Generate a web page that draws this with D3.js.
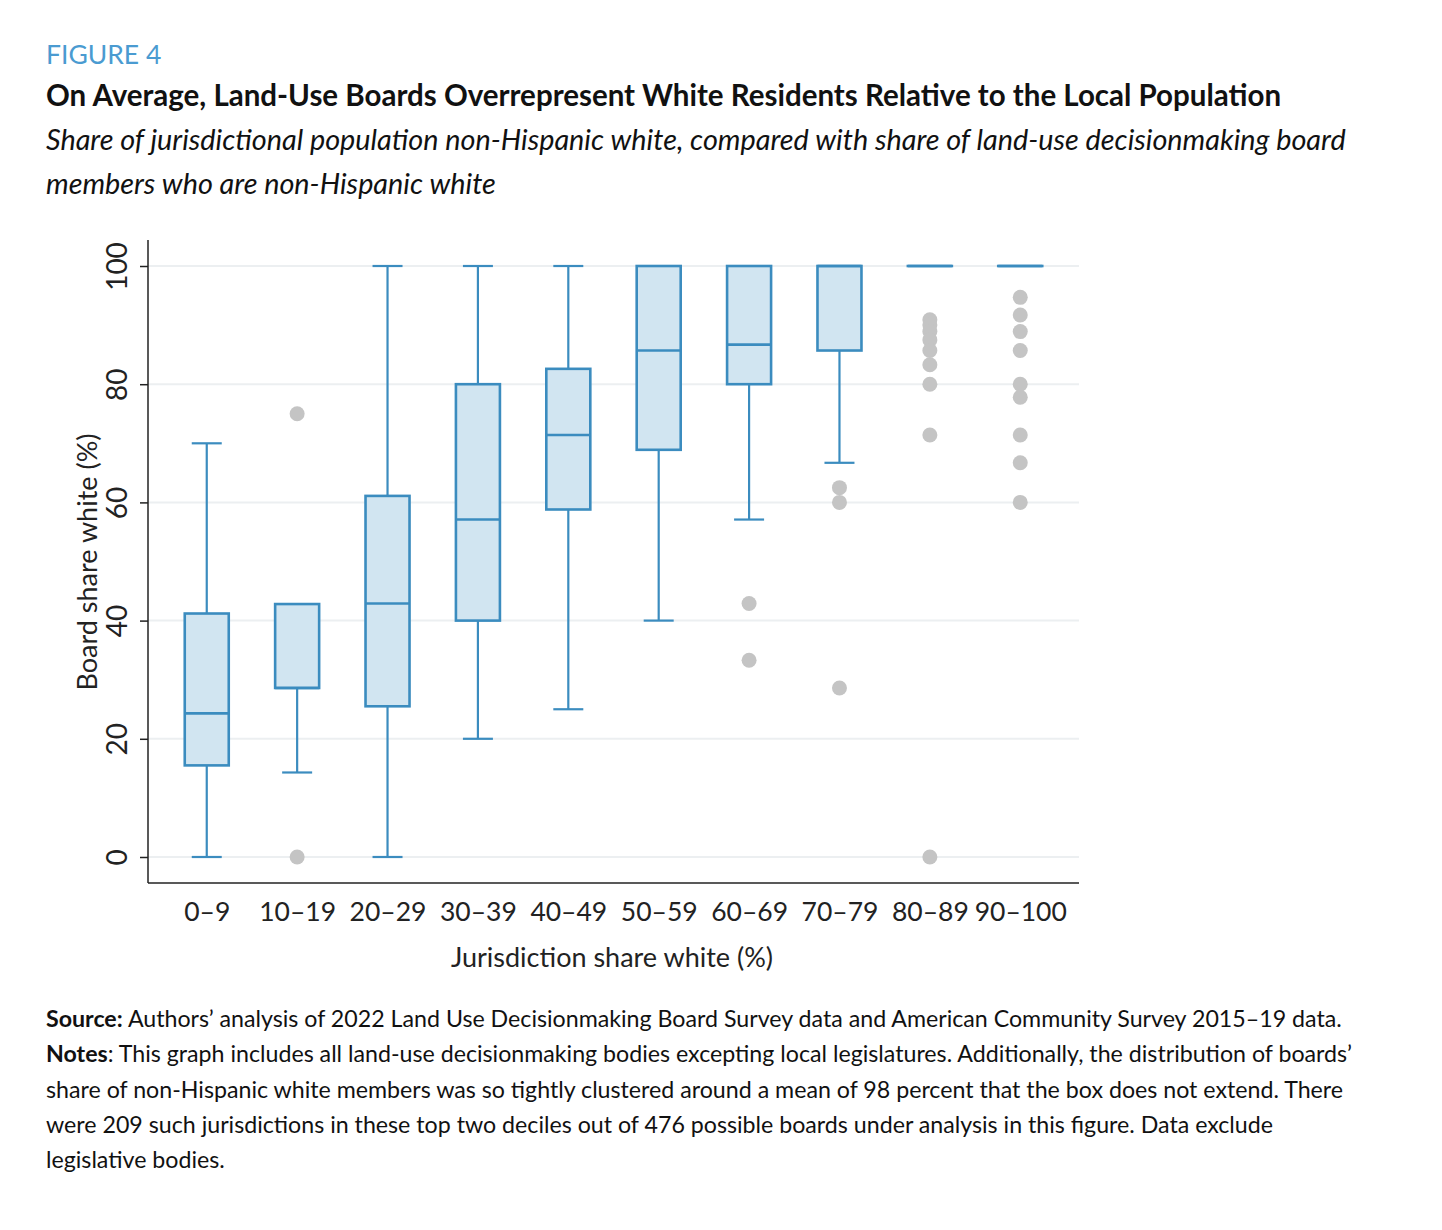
<!DOCTYPE html>
<html>
<head>
<meta charset="utf-8">
<script src="https://cdn.jsdelivr.net/npm/d3@7"></script>
<style>
  body { margin: 0; background: #fff; }
  text { font-family: Lato, "Open Sans", sans-serif; }
</style>
</head>
<body>
<script>
// categories and box stats
var categories = ["0–9", "10–19", "20–29", "30–39", "40–49", "50–59", "60–69", "70–79", "80–89", "90–100"];
var whiskerLow  = [0,    14.3, 0,    20,   25,   40,   57.1, 66.7, 100, 100];
var q1          = [15.5, 28.6, 25.5, 40,   58.8, 68.9, 80,   85.7, 100, 100];
var median      = [24.3, 28.6, 42.9, 57.1, 71.4, 85.7, 86.7, 100,  100, 100];
var q3          = [41.2, 42.8, 61.1, 80,   82.6, 100,  100,  100,  100, 100];
var whiskerHigh = [70,   42.8, 100,  100,  100,  100,  100,  100,  100, 100];
var outliers = [
  [],
  [75, 0],
  [],
  [],
  [],
  [],
  [42.9, 33.3],
  [62.5, 60, 28.6],
  [90.9, 90, 88.9, 87.5, 85.7, 83.3, 80, 71.4, 0],
  [94.7, 91.7, 88.9, 85.7, 80, 77.8, 71.4, 66.7, 60]
];
var yTicks = [0, 20, 40, 60, 80, 100];

var W = 1442, H = 1230;
var blue = "#3b8cbf", fillBlue = "#d1e5f1", grey = "#c4c4c4";

var svg = d3.select("body")
	.append("svg")
	.attr("width", W)
	.attr("height", H);

// header
svg.append("text").attr("x", 46).attr("y", 64)
	.style("font-size", "26.5px").style("fill", "#4a9bd1")
	.text("FIGURE 4");
svg.append("text").attr("x", 46).attr("y", 106)
	.style("font-size", "29.5px").style("font-weight", "bold").style("fill", "#111")
	.text("On Average, Land-Use Boards Overrepresent White Residents Relative to the Local Population");
var subtitle = ["Share of jurisdictional population non-Hispanic white, compared with share of land-use decisionmaking board",
	"members who are non-Hispanic white"];
subtitle.forEach(function(s, i) {
	svg.append("text").attr("x", 46).attr("y", 150 + i * 44)
		.style("font-size", "28.8px").style("font-style", "italic").style("fill", "#111")
		.text(s);
});

// scales
var x = d3.scalePoint().domain(categories).range([148, 1079]).padding(0.65);
var y = d3.scaleLinear().domain([-4.4, 104.4]).range([883, 240]);
var boxW = 44, capW = 30;

// grid
svg.append("g").selectAll("line").data(yTicks).enter().append("line")
	.attr("x1", 148).attr("x2", 1079)
	.attr("y1", function(d) { return y(d); }).attr("y2", function(d) { return y(d); })
	.style("stroke", "#eceff1").style("stroke-width", 2);

// axes
var yAxis = svg.append("g").attr("transform", "translate(148,0)")
	.call(d3.axisLeft(y).tickValues(yTicks).tickSize(8).tickPadding(10));
yAxis.select(".domain").remove();
yAxis.selectAll("line").style("stroke", "#222").style("stroke-width", 1.5);
yAxis.selectAll("text")
	.attr("x", 0).attr("y", 0).attr("dy", "0.35em")
	.attr("transform", "translate(-31,0) rotate(-90)")
	.style("text-anchor", "middle")
	.style("font-size", "28px").style("fill", "#222").style("font-family", "Lato, sans-serif");

svg.append("line").attr("x1", 148).attr("x2", 148).attr("y1", 240).attr("y2", 883)
	.style("stroke", "#222").style("stroke-width", 1.5);
svg.append("line").attr("x1", 148).attr("x2", 1079).attr("y1", 883).attr("y2", 883)
	.style("stroke", "#222").style("stroke-width", 1.5);

var xAxis = svg.append("g").attr("transform", "translate(0,883)")
	.call(d3.axisBottom(x).tickSize(0).tickPadding(19));
xAxis.select(".domain").remove();
xAxis.selectAll("text").style("font-size", "26.5px").style("fill", "#222").style("font-family", "Lato, sans-serif");

svg.append("text").attr("x", 612).attr("y", 967)
	.style("font-size", "27px").style("fill", "#222").style("text-anchor", "middle")
	.text("Jurisdiction share white (%)");
svg.append("text")
	.attr("transform", "translate(97,562) rotate(-90)")
	.style("font-size", "27px").style("fill", "#222").style("text-anchor", "middle")
	.text("Board share white (%)");

// boxes
for (var i = 0; i < categories.length; i++) {
	var cx = x(categories[i]);
	var g = svg.append("g");
	// whiskers
	g.append("line").attr("x1", cx).attr("x2", cx).attr("y1", y(q3[i])).attr("y2", y(whiskerHigh[i]))
		.style("stroke", blue).style("stroke-width", 2.2);
	g.append("line").attr("x1", cx).attr("x2", cx).attr("y1", y(q1[i])).attr("y2", y(whiskerLow[i]))
		.style("stroke", blue).style("stroke-width", 2.2);
	if (whiskerHigh[i] > q3[i])
		g.append("line").attr("x1", cx - capW / 2).attr("x2", cx + capW / 2)
			.attr("y1", y(whiskerHigh[i])).attr("y2", y(whiskerHigh[i]))
			.style("stroke", blue).style("stroke-width", 2.2);
	if (whiskerLow[i] < q1[i])
		g.append("line").attr("x1", cx - capW / 2).attr("x2", cx + capW / 2)
			.attr("y1", y(whiskerLow[i])).attr("y2", y(whiskerLow[i]))
			.style("stroke", blue).style("stroke-width", 2.2);
	// box
	g.append("rect").attr("x", cx - boxW / 2).attr("width", boxW)
		.attr("y", y(q3[i])).attr("height", Math.max(0.01, y(q1[i]) - y(q3[i])))
		.style("fill", fillBlue).style("stroke", blue).style("stroke-width", 2.6);
	g.append("line").attr("x1", cx - boxW / 2).attr("x2", cx + boxW / 2)
		.attr("y1", y(median[i])).attr("y2", y(median[i]))
		.style("stroke", blue).style("stroke-width", 2.6);
	// outliers
	g.selectAll("circle").data(outliers[i]).enter().append("circle")
		.attr("cx", cx).attr("cy", function(d) { return y(d); }).attr("r", 7.5)
		.style("fill", grey);
}

// footnotes
var notes = [
	[["Source:", true], [" Authors’ analysis of 2022 Land Use Decisionmaking Board Survey data and American Community Survey 2015–19 data.", false]],
	[["Notes", true], [": This graph includes all land-use decisionmaking bodies excepting local legislatures. Additionally, the distribution of boards’", false]],
	[["share of non-Hispanic white members was so tightly clustered around a mean of 98 percent that the box does not extend. There", false]],
	[["were 209 such jurisdictions in these top two deciles out of 476 possible boards under analysis in this figure. Data exclude", false]],
	[["legislative bodies.", false]]
];
notes.forEach(function(line, i) {
	var t = svg.append("text").attr("x", 46).attr("y", 1027 + i * 35.3)
		.style("font-size", "23.2px").style("fill", "#111");
	line.forEach(function(part) {
		t.append("tspan").style("font-weight", part[1] ? "bold" : "normal").text(part[0]);
	});
});
</script>
</body>
</html>
